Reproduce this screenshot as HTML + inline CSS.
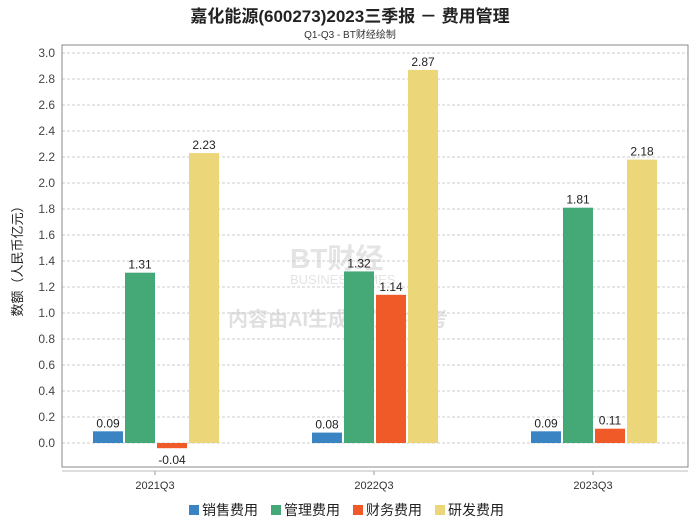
<!DOCTYPE html>
<html><head><meta charset="utf-8"><style>
body{margin:0;background:#fff;}
svg{display:block;font-family:"Liberation Sans","Noto Sans CJK SC",sans-serif;}
</style></head><body>
<svg id="chart" width="700" height="524">
<text x="350" y="22" text-anchor="middle" font-size="17" font-weight="bold" fill="#222">嘉化能源(600273)2023三季报 － 费用管理</text>
<text x="350" y="38" text-anchor="middle" font-size="10" fill="#333">Q1-Q3 - BT财经绘制</text>
<text x="290" y="268" font-size="28" font-weight="bold" fill="#e4e4e4">BT财经</text>
<text x="290" y="284" font-size="13" fill="#e4e4e4">BUSINESSTIMES</text>
<text x="228" y="326" font-size="20" font-weight="bold" fill="#e0e0e0">内容由AI生成，仅供参考</text>
<g id="grid"></g>
<g id="bars"></g>
<rect x="62" y="45" width="626" height="422" fill="none" stroke="#888"/>
<line x1="62" y1="471" x2="688" y2="471" stroke="#bbb"/>
<text transform="translate(22,258) rotate(-90)" text-anchor="middle" font-size="13" fill="#222">数额（人民币亿元）</text>
<g id="legend"></g>
</svg>
<script>
const categories=["2021Q3","2022Q3","2023Q3"];
const seriesNames=["销售费用","管理费用","财务费用","研发费用"];
const sales=[0.09,0.08,0.09];
const admin=[1.31,1.32,1.81];
const finance=[-0.04,1.14,0.11];
const rnd=[2.23,2.87,2.18];
const yTicks=[0,0.2,0.4,0.6,0.8,1.0,1.2,1.4,1.6,1.8,2.0,2.2,2.4,2.6,2.8,3.0];
const colors=["#3a84c4","#45a877","#ef5a28","#ecd67a"];
const NS="http://www.w3.org/2000/svg";
const y=v=>443-v*130;
const xc=i=>155+219*i;
function el(t,a,p){const e=document.createElementNS(NS,t);for(const k in a)e.setAttribute(k,a[k]);p.appendChild(e);return e;}
const grid=document.getElementById('grid');
yTicks.forEach(t=>{
  const l=el('line',{x1:62,x2:688,y1:y(t),y2:y(t),stroke:'#ccc','stroke-dasharray':'3,2'},grid);
  
  
  const tx=el('text',{x:55,y:y(t)+4,'text-anchor':'end','font-size':12,fill:'#444'},grid);
  tx.textContent=t.toFixed(1);
  
  
});
const bars=document.getElementById('bars');
const all=[sales,admin,finance,rnd];
categories.forEach((c,i)=>{
  all.forEach((s,j)=>{
    const v=s[i];const x=xc(i)-62+j*32;
    const r=el('rect',{x:x,y:Math.min(y(v),y(0)),width:30,height:Math.abs(y(v)-y(0)),fill:colors[j]},bars);
    
    
    const lt=el('text',{x:x+15,y:v>=0?y(v)-4:y(v)+16,'text-anchor':'middle','font-size':12,fill:'#222'},bars);
    lt.textContent=v.toFixed(2);
    
    
  });
  const tk=el('line',{x1:xc(i),x2:xc(i),y1:471,y2:475,stroke:'#999'},bars);
  
  
  const ct=el('text',{x:xc(i),y:489,'text-anchor':'middle','font-size':11,fill:'#333'},bars);
  ct.textContent=c;
  
  
});
const lg=document.getElementById('legend');
seriesNames.forEach((n,j)=>{
  const x=189+j*82;
  const r=el('rect',{x:x,y:505,width:10,height:10,fill:colors[j]},lg);
  
  
  const t=el('text',{x:x+13,y:515,'font-size':14,fill:'#222'},lg);
  t.textContent=n;
  
  
});
</script>
</body></html>
